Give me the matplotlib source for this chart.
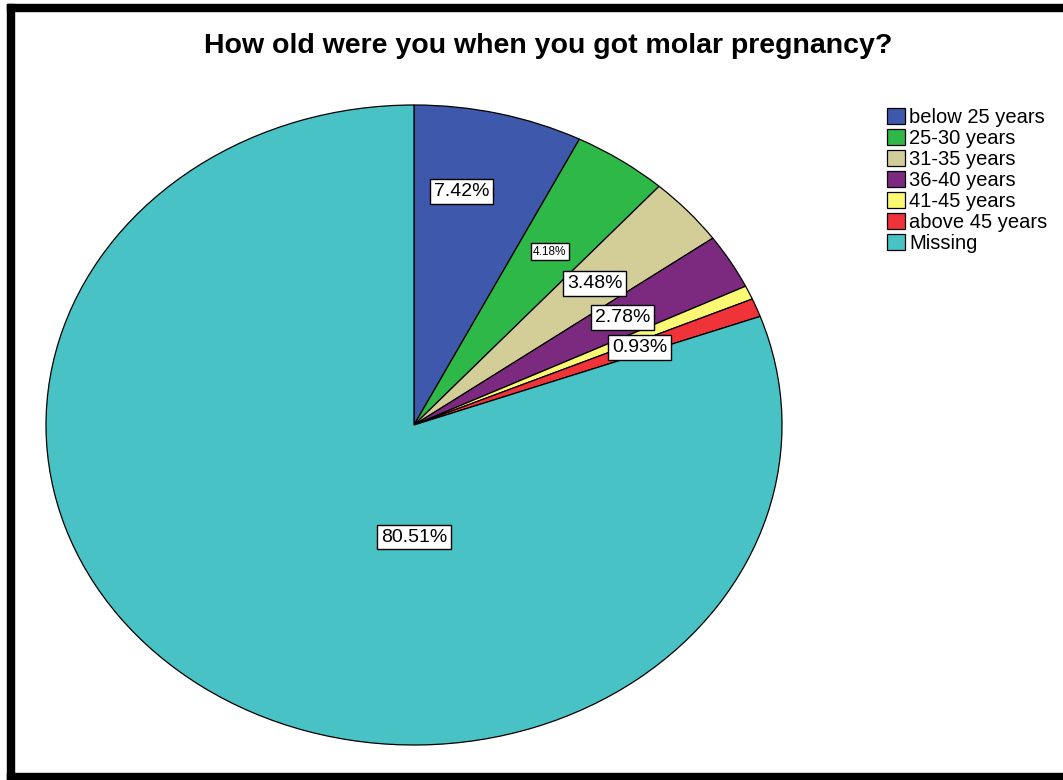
import numpy as np
import matplotlib.pyplot as plt
from matplotlib.patches import Rectangle, Patch

plt.rcParams['font.family'] = ['Liberation Sans', 'DejaVu Sans']

# data
categories = ['below 25 years', '25-30 years', '31-35 years', '36-40 years',
              '41-45 years', 'above 45 years', 'Missing']
percents = [7.42, 4.18, 3.48, 2.78, 0.70, 0.93, 80.51]
labels = ['7.42%', '4.18%', '3.48%', '2.78%', None, '0.93%', '80.51%']
colors = ['#3E58AC', '#2EB848', '#D3CE97', '#7B2A7F', '#FBF873', '#EF3338', '#48C2C5']

# label placement (radius fraction, optional fixed angle, font size)
label_r = [0.74, 0.655, 0.66, 0.66, None, 0.66, 0.35]
label_angle = [80, None, None, None, None, None, -90]
label_size = [14, 8.5, 14, 14, None, 14, 14]

W, H = 1063, 780
fig = plt.figure(figsize=(W / 100, H / 100), dpi=100)

# elliptical pie (axes stretched, aspect auto)
ax = fig.add_axes([46 / W, (H - 745) / H, 736 / W, 640 / H])
wedges, _ = ax.pie(percents, colors=colors, startangle=90, counterclock=False,
                   wedgeprops=dict(edgecolor='black', linewidth=0.9))
ax.set_aspect('auto')
ax.set_xlim(-1, 1)
ax.set_ylim(-1, 1)
ax.axis('off')

for w, lab, r, ang, fs in zip(wedges, labels, label_r, label_angle, label_size):
    if lab is None:
        continue
    a = ang if ang is not None else (w.theta1 + w.theta2) / 2
    x = r * np.cos(np.radians(a))
    y = r * np.sin(np.radians(a))
    ax.text(x, y, lab, ha='center', va='center', fontsize=fs,
            bbox=dict(boxstyle='square,pad=0.2', fc='white', ec='black', lw=1.0))

fig.text(548 / W, 1 - 46 / H, 'How old were you when you got molar pregnancy?',
         ha='center', va='center', fontsize=20.5, fontweight='bold')

handles = [Patch(facecolor=c, edgecolor='black', linewidth=0.9) for c in colors]
fig.legend(handles, categories, loc='upper left', bbox_to_anchor=(887 / W, 1 - 108 / H),
           frameon=False, fontsize=14.5, handlelength=0.9, handleheight=0.8,
           handletextpad=0.2, labelspacing=0.1, borderpad=0, borderaxespad=0)

# black frame around the figure
for x0, y0, w, h in [(7, 4, W - 7, 7), (7, 4, 7, H - 4), (7, 773, W - 7, 7)]:
    fig.add_artist(Rectangle((x0 / W, 1 - (y0 + h) / H), w / W, h / H,
                             transform=fig.transFigure, color='black'))

fig.savefig('out.png', dpi=100)
